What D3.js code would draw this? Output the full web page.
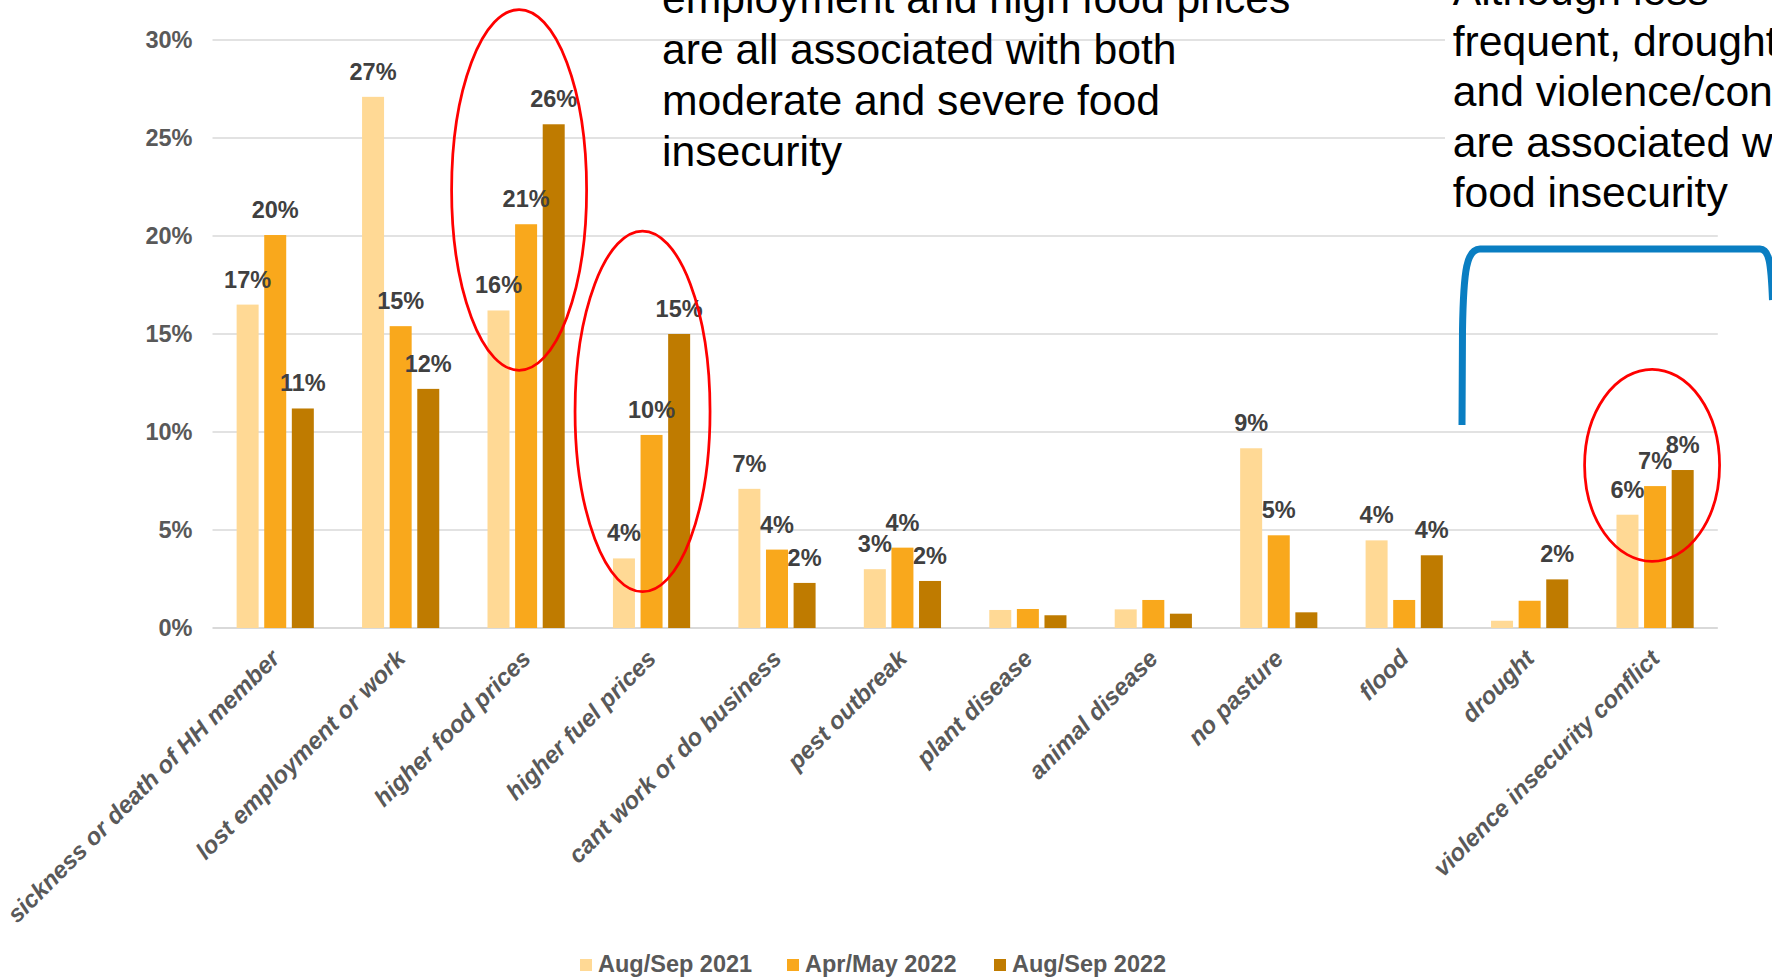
<!DOCTYPE html>
<html>
<head>
<meta charset="utf-8">
<script src="https://cdn.jsdelivr.net/npm/d3@7"></script>
<style>
  html, body { margin: 0; padding: 0; background: #ffffff; overflow: hidden; }
  svg { display: block; }
  text { font-family: "Liberation Sans", Arial, Helvetica, sans-serif; }
</style>
</head>
<body>
<svg id="chart" width="1772" height="977"></svg>
<script>
// ---------- data ----------
const categories = [
  "sickness or death of HH member",
  "lost employment or work",
  "higher food prices",
  "higher fuel prices",
  "cant work or do business",
  "pest outbreak",
  "plant disease",
  "animal disease",
  "no pasture",
  "flood",
  "drought",
  "violence insecurity conflict"
];
const seriesNames = ["Aug/Sep 2021", "Apr/May 2022", "Aug/Sep 2022"];
const aug2021 = [16.5, 27.1, 16.2, 3.55, 7.1, 3.0, 0.92, 0.95, 9.17, 4.47, 0.37, 5.78];
const apr2022 = [20.05, 15.4, 20.6, 9.85, 4.0, 4.1, 0.97, 1.43, 4.73, 1.43, 1.39, 7.24];
const aug2022 = [11.2, 12.2, 25.7, 15.0, 2.3, 2.4, 0.65, 0.73, 0.8, 3.71, 2.48, 8.06];
const aug2021Labels = ["17%", "27%", "16%", "4%", "7%", "3%", "", "", "9%", "4%", "", "6%"];
const apr2022Labels = ["20%", "15%", "21%", "10%", "4%", "4%", "", "", "5%", "", "", "7%"];
const aug2022Labels = ["11%", "12%", "26%", "15%", "2%", "2%", "", "", "", "4%", "2%", "8%"];
const yTicks = [0, 5, 10, 15, 20, 25, 30];
const seriesColors = ["#FFD995", "#F9A81C", "#BF7B00"];

const note1Lines = [
  "employment and high food prices",
  "are all associated with both",
  "moderate and severe food",
  "insecurity"
];
const note2Lines = [
  "Although less",
  "frequent, drought",
  "and violence/conflict",
  "are associated with",
  "food insecurity"
];
// highlighted groups: category, horizontal shift (px), centre value (%), half-height (%)
const highlights = [
  { cat: "higher food prices", dx: -7, cy: 22.35, ry: 9.2 },
  { cat: "higher fuel prices", dx: -9, cy: 11.05, ry: 9.2 },
  { cat: "violence insecurity conflict", dx: -3, cy: 8.3, ry: 4.9 }
];

// ---------- layout ----------
const W = 1772, H = 977;
const plotLeft = 212.5, plotRight = 1717.8, plotTop = 40, plotBottom = 628;
const svg = d3.select("#chart");

const series = [aug2021, apr2022, aug2022];
const seriesLabels = [aug2021Labels, apr2022Labels, aug2022Labels];
const rows = categories.map((c, i) => ({
  cat: c,
  vals: seriesNames.map((s, k) => ({ s, k, v: series[k][i], lab: seriesLabels[k][i] }))
}));

const x = d3.scaleBand().domain(categories).range([plotLeft, plotRight]).padding(0);
const xi = d3.scaleBand().domain(seriesNames).range([-38.6, 38.6]).paddingInner(0.203).paddingOuter(0);
const y = d3.scaleLinear().domain([0, 30]).range([plotBottom, plotTop]);
const color = d3.scaleOrdinal().domain(seriesNames).range(seriesColors);
const cx = c => x(c) + x.bandwidth() / 2;

// gridlines
svg.append("g").selectAll("line").data(yTicks).join("line")
  .attr("x1", plotLeft).attr("x2", plotRight)
  .attr("y1", d => y(d)).attr("y2", d => y(d))
  .attr("stroke", "#d9d9d9")
  .attr("stroke-width", d => d === 0 ? 2 : 1.5);

// y axis labels
const yAxis = d3.axisLeft(y).tickValues(yTicks).tickFormat(d => d + "%").tickSize(0).tickPadding(20);
const yg = svg.append("g").attr("transform", `translate(${plotLeft},0)`).call(yAxis);
yg.select(".domain").remove();
yg.selectAll("text")
  .style("font-family", "'Liberation Sans', Arial, sans-serif")
  .attr("font-size", 23.5).attr("font-weight", "bold").attr("fill", "#595959");

// bars
const groups = svg.append("g").selectAll("g").data(rows).join("g")
  .attr("transform", d => `translate(${cx(d.cat)},0)`);
groups.selectAll("rect").data(d => d.vals).join("rect")
  .attr("x", d => xi(d.s))
  .attr("width", xi.bandwidth())
  .attr("y", d => y(d.v))
  .attr("height", d => y(0) - y(d.v))
  .attr("fill", d => color(d.s));

// value labels
groups.selectAll("text").data(d => d.vals.filter(v => v.lab !== "")).join("text")
  .attr("x", d => xi(d.s) + xi.bandwidth() / 2)
  .attr("y", d => y(d.v) - 17)
  .attr("text-anchor", "middle")
  .attr("font-size", 23.5).attr("font-weight", "bold").attr("fill", "#404040")
  .text(d => d.lab);

// x axis labels
svg.append("g").selectAll("text").data(categories).join("text")
  .attr("transform", d => `translate(${cx(d) + 6},${plotBottom + 32}) rotate(-45)`)
  .attr("text-anchor", "end")
  .attr("font-size", 24).attr("font-weight", "bold").attr("font-style", "italic")
  .attr("fill", "#595959")
  .text(d => d);

// legend
const legend = svg.append("g").selectAll("g").data(seriesNames).join("g")
  .attr("transform", (d, i) => `translate(${580 + i * 207},0)`);
legend.append("rect").attr("x", 0).attr("y", 959).attr("width", 12).attr("height", 12)
  .attr("fill", d => color(d));
legend.append("text").attr("x", 18).attr("y", 971.5)
  .attr("font-size", 23.5).attr("font-weight", "bold").attr("fill", "#595959")
  .text(d => d);

// red ellipses
svg.append("g").selectAll("ellipse").data(highlights).join("ellipse")
  .attr("cx", d => cx(d.cat) + d.dx)
  .attr("cy", d => y(d.cy))
  .attr("rx", 67.5)
  .attr("ry", d => y(0) - y(d.ry))
  .attr("fill", "none").attr("stroke", "#FF0000").attr("stroke-width", 2.75);

// annotation 1 (no background)
svg.append("g").selectAll("text").data(note1Lines).join("text")
  .attr("x", 662).attr("y", (d, i) => 13 + i * 51)
  .attr("font-size", 42.67).attr("fill", "#000000")
  .text(d => d);

// annotation 2 (white box)
svg.append("rect").attr("x", 1445).attr("y", 0).attr("width", W - 1445).attr("height", 225).attr("fill", "#ffffff");
svg.append("g").selectAll("text").data(note2Lines).join("text")
  .attr("x", 1452.7).attr("y", (d, i) => 5 + i * 50.5)
  .attr("font-size", 42.67).attr("fill", "#000000")
  .text(d => d);

// blue bracket
svg.append("path")
  .attr("d", "M1462,425 L1462.5,330 C1463.5,268 1467,249 1480,249 L1760,249 C1769,249 1771,262 1772.5,300")
  .attr("fill", "none").attr("stroke", "#0A7EC2").attr("stroke-width", 7);
</script>
</body>
</html>
